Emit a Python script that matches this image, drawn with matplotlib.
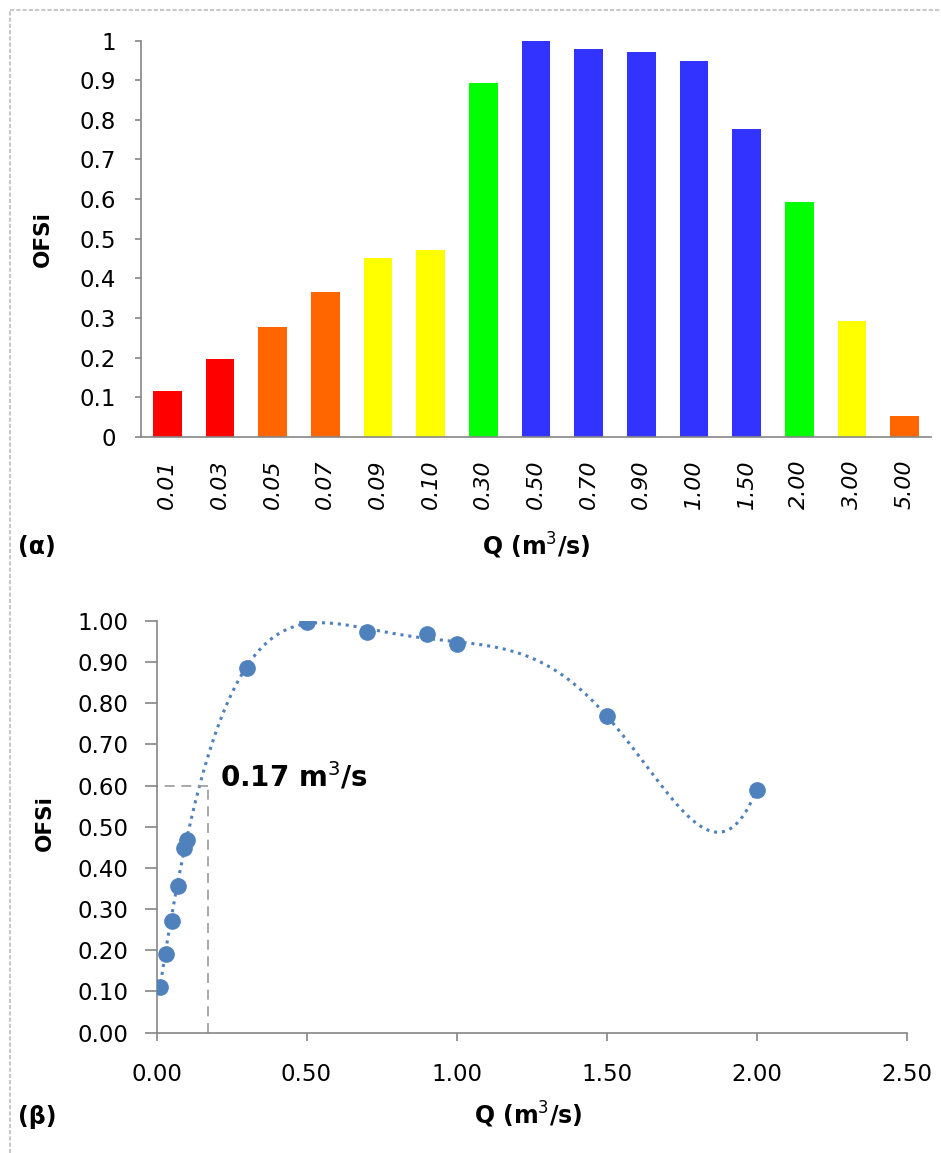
import numpy as np
import matplotlib.pyplot as plt
from matplotlib.lines import Line2D

# flow rates and OFSi values
q_labels = ['0.01', '0.03', '0.05', '0.07', '0.09', '0.10', '0.30', '0.50',
            '0.70', '0.90', '1.00', '1.50', '2.00', '3.00', '5.00']
ofsi = [0.115, 0.197, 0.278, 0.365, 0.452, 0.472, 0.892, 0.998,
        0.978, 0.972, 0.948, 0.776, 0.593, 0.293, 0.052]
bar_colors = ['#FF0000', '#FF0000', '#FF6600', '#FF6600', '#FFFF00', '#FFFF00',
              '#00FF00', '#3333FF', '#3333FF', '#3333FF', '#3333FF', '#3333FF',
              '#00FF00', '#FFFF00', '#FF6600']

# scatter uses the flows up to 2.00 m3/s
q_pts = [0.01, 0.03, 0.05, 0.07, 0.09, 0.10, 0.30, 0.50, 0.70, 0.90, 1.00, 1.50, 2.00]
ofsi_pts = [0.11, 0.19, 0.272, 0.355, 0.448, 0.468, 0.886, 0.998, 0.974, 0.968, 0.944, 0.770, 0.590]

q_opt = 0.17
ofsi_opt = 0.60

plt.rcParams['font.family'] = ['DejaVu Sans']
axis_grey = '#868686'
W, H = 941, 1153

fig = plt.figure(figsize=(W / 100, H / 100), dpi=100)

# outer frame (top and left edges)
for xs_, ys_ in [([10 / W, 1], [1 - 10 / H, 1 - 10 / H]),
                 ([10 / W, 10 / W], [0, 1 - 10 / H])]:
    fig.add_artist(Line2D(xs_, ys_, transform=fig.transFigure, color='#c8c8c8',
                          linestyle=(0, (2, 1)), linewidth=1.5))

def style_axes(ax):
    for s in ['top', 'right']:
        ax.spines[s].set_visible(False)
    for s in ['left', 'bottom']:
        ax.spines[s].set_color(axis_grey)
        ax.spines[s].set_linewidth(1.2)
    ax.tick_params(colors=axis_grey, labelcolor='black', width=1.2)

# (α) bar chart
ax1 = fig.add_axes([141 / W, 1 - 437 / H, 790 / W, 396.5 / H])
x = np.arange(len(q_labels))
ax1.bar(x, ofsi, width=0.55, color=bar_colors)
ax1.set_xlim(-0.5, len(q_labels) - 0.5)
ax1.set_ylim(0, 1)
ax1.set_yticks(np.arange(0, 1.01, 0.1))
ax1.set_yticklabels(['0', '0.1', '0.2', '0.3', '0.4', '0.5', '0.6', '0.7', '0.8', '0.9', '1'],
                    fontsize=16.5)
ax1.set_xticks(x)
ax1.set_xticklabels(q_labels, rotation=90, fontsize=16, style='italic')
style_axes(ax1)
ax1.tick_params(axis='x', length=0, pad=16)
ax1.tick_params(axis='y', length=4, pad=14)
ax1.set_ylabel('OFSi', fontsize=15.5, fontweight='bold')
ax1.yaxis.set_label_coords((53 - 141) / 790, 0.5)
fig.text(536 / W, 1 - 546 / H, 'Q (m$^{3}$/s)', fontsize=17, fontweight='bold',
         ha='center', va='center')
fig.text(18 / W, 1 - 547 / H, '(α)', fontsize=17, fontweight='bold',
         ha='left', va='center')

# (β) scatter with polynomial trendline
ax2 = fig.add_axes([156.5 / W, 1 - 1032.5 / H, 750 / W, 411.5 / H])
coef = np.polyfit(q_pts, ofsi_pts, 6)
xs = np.linspace(min(q_pts), max(q_pts), 300)
ax2.plot(xs, np.polyval(coef, xs), color='#4F81BD', linestyle=(0, (1, 1.6)), linewidth=2.2)
ax2.plot(q_pts, ofsi_pts, 'o', color='#4F81BD', markersize=11, zorder=3)
ax2.plot([-0.03, q_opt], [ofsi_opt, ofsi_opt], color='#999999', linestyle=(0, (6, 4)),
         linewidth=1.2, clip_on=False)
ax2.plot([q_opt, q_opt], [0, ofsi_opt], color='#999999', linestyle=(0, (6, 4)), linewidth=1.2)
ax2.text(q_opt + 0.043, ofsi_opt + 0.023, '0.17 m$^{3}$/s', fontsize=20, fontweight='bold',
         ha='left', va='center')
ax2.set_xlim(0, 2.5)
ax2.set_ylim(0, 1)
ax2.set_xticks(np.arange(0, 2.51, 0.5))
ax2.set_xticklabels(['%.2f' % v for v in np.arange(0, 2.51, 0.5)], fontsize=16.5)
ax2.set_yticks(np.arange(0, 1.01, 0.1))
ax2.set_yticklabels(['%.2f' % v for v in np.arange(0, 1.01, 0.1)], fontsize=16.5)
style_axes(ax2)
ax2.tick_params(axis='x', length=6, pad=16)
ax2.tick_params(axis='y', length=8.5, pad=12)
ax2.set_ylabel('OFSi', fontsize=15.5, fontweight='bold')
ax2.yaxis.set_label_coords((55 - 156.5) / 750, 0.51)
fig.text(528 / W, 1 - 1115 / H, 'Q (m$^{3}$/s)', fontsize=17, fontweight='bold',
         ha='center', va='center')
fig.text(18 / W, 1 - 1117 / H, '(β)', fontsize=17, fontweight='bold',
         ha='left', va='center')

fig.savefig('out.png', dpi=100)
